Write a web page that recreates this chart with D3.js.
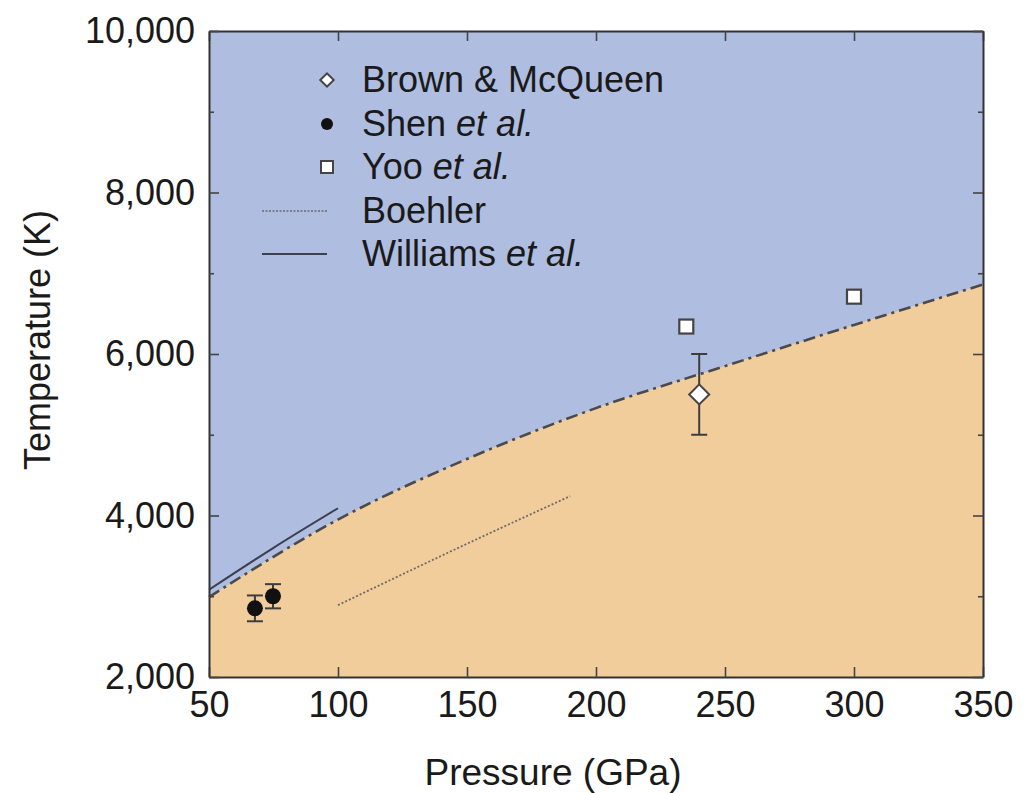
<!DOCTYPE html>
<html>
<head>
<meta charset="utf-8">
<script src="https://cdn.jsdelivr.net/npm/d3@7"></script>
<style>
  body { margin: 0; background: #fff; }
  svg text { font-family: "Liberation Sans", Arial, sans-serif; fill: #1a1a1a; }
</style>
</head>
<body>
<svg id="chart" width="1026" height="793"></svg>
<script>
// melting curve (boundary between solid and liquid)
var meltP = [50, 100, 150, 200, 250, 300, 350]
var meltT = [2990, 3950, 4700, 5330, 5850, 6360, 6860]

// Williams et al. (solid line)
var williamsP = [50, 75, 100]
var williamsT = [3080, 3600, 4090]

// Boehler (dotted line)
var boehlerP = [100, 150, 190]
var boehlerT = [2890, 3650, 4240]

// Shen et al. - filled circles with error bars
var shenP = [67.8, 74.8]
var shenT = [2850, 3000]
var shenErr = [160, 150]

// Brown & McQueen - diamond with error bar
var brownP = [240]
var brownT = [5500]
var brownErr = [500]

// Yoo et al. - open squares
var yooP = [235, 300]
var yooT = [6340, 6710]

var xTicks = [50, 100, 150, 200, 250, 300, 350]
var yTicks = [2000, 4000, 6000, 8000, 10000]
var yMinor = [3000, 5000, 7000, 9000]

var svg = d3.select("#chart")
var pl = 209, pr = 983, pt = 31, pb = 677

var x = d3.scaleLinear().domain([50, 350]).range([pl, pr])
var y = d3.scaleLinear().domain([2000, 10000]).range([pb, pt])

var blue = "#aebde0", orange = "#f2cd9c"

// background (liquid)
svg.append("rect")
  .attr("x", pl).attr("y", pt)
  .attr("width", pr - pl).attr("height", pb - pt)
  .attr("fill", blue)

var melt = meltP.map(function(p, i) { return [p, meltT[i]] })

// solid region below curve
var area = d3.area()
  .x(function(d) { return x(d[0]) })
  .y0(pb)
  .y1(function(d) { return y(d[1]) })
  .curve(d3.curveMonotoneX)
svg.append("path").datum(melt).attr("d", area).attr("fill", orange)

var line = d3.line()
  .x(function(d) { return x(d[0]) })
  .y(function(d) { return y(d[1]) })
  .curve(d3.curveMonotoneX)

svg.append("path").datum(melt).attr("d", line)
  .attr("fill", "none").attr("stroke", "#4a4a4a")
  .attr("stroke-width", 2.6)
  .attr("stroke-dasharray", "12,5,3,5")

svg.append("path").datum(williamsP.map(function(p, i) { return [p, williamsT[i]] }))
  .attr("d", line).attr("fill", "none")
  .attr("stroke", "#3c3f4e").attr("stroke-width", 2)

svg.append("path").datum(boehlerP.map(function(p, i) { return [p, boehlerT[i]] }))
  .attr("d", line).attr("fill", "none")
  .attr("stroke", "#6e6a66").attr("stroke-width", 1.8)
  .attr("stroke-dasharray", "2,2")

// axes frame with inward ticks
var axB = d3.axisBottom(x).tickValues(xTicks).tickSizeInner(-10).tickSizeOuter(0).tickPadding(14)
  .tickFormat(d3.format("d"))
var axT = d3.axisTop(x).tickValues(xTicks).tickSizeInner(-10).tickSizeOuter(0).tickFormat("")
var axL = d3.axisLeft(y).tickValues(yTicks).tickSizeInner(-10).tickSizeOuter(0).tickPadding(14)
  .tickFormat(d3.format(","))
var axR = d3.axisRight(y).tickValues(yTicks).tickSizeInner(-10).tickSizeOuter(0).tickFormat("")

function styleAxis(g) {
  g.select(".domain").attr("stroke", "#333").attr("stroke-width", 2)
  g.selectAll(".tick line").attr("stroke", "#444").attr("stroke-width", 1.6)
  g.selectAll(".tick text").style("font-size", "36px").attr("fill", "#1a1a1a")
}

svg.append("g").attr("transform", "translate(0," + pb + ")").call(axB).call(styleAxis)
svg.append("g").attr("transform", "translate(0," + pt + ")").call(axT).call(styleAxis)
svg.append("g").attr("transform", "translate(" + pl + ",0)").call(axL).call(styleAxis)
svg.append("g").attr("transform", "translate(" + pr + ",0)").call(axR).call(styleAxis)

var axLm = d3.axisLeft(y).tickValues(yMinor).tickSizeInner(-5).tickSizeOuter(0).tickFormat("")
var axRm = d3.axisRight(y).tickValues(yMinor).tickSizeInner(-5).tickSizeOuter(0).tickFormat("")
svg.append("g").attr("transform", "translate(" + pl + ",0)").call(axLm).call(styleAxis)
  .select(".domain").remove()
svg.append("g").attr("transform", "translate(" + pr + ",0)").call(axRm).call(styleAxis)
  .select(".domain").remove()

// error bars
function errBars(P, T, E) {
  P.forEach(function(p, i) {
    var g = svg.append("g").attr("stroke", "#3d3d3d").attr("stroke-width", 2)
    g.append("line").attr("x1", x(p)).attr("x2", x(p)).attr("y1", y(T[i] - E[i])).attr("y2", y(T[i] + E[i]))
    g.append("line").attr("x1", x(p) - 8).attr("x2", x(p) + 8).attr("y1", y(T[i] - E[i])).attr("y2", y(T[i] - E[i]))
    g.append("line").attr("x1", x(p) - 8).attr("x2", x(p) + 8).attr("y1", y(T[i] + E[i])).attr("y2", y(T[i] + E[i]))
  })
}
errBars(shenP, shenT, shenErr)
errBars(brownP, brownT, brownErr)

svg.selectAll(".shen").data(shenP).enter().append("circle")
  .attr("cx", function(d) { return x(d) })
  .attr("cy", function(d, i) { return y(shenT[i]) })
  .attr("r", 8).attr("fill", "#111")

// diamond = square turned 45 degrees
var diamond = d3.symbol().type(d3.symbolSquare).size(200)
svg.selectAll(".brown").data(brownP).enter().append("path")
  .attr("d", diamond)
  .attr("transform", function(d, i) { return "translate(" + x(d) + "," + y(brownT[i]) + ") rotate(45)" })
  .attr("fill", "#fff").attr("stroke", "#444").attr("stroke-width", 2)

svg.selectAll(".yoo").data(yooP).enter().append("rect")
  .attr("x", function(d) { return x(d) - 7 })
  .attr("y", function(d, i) { return y(yooT[i]) - 7 })
  .attr("width", 14).attr("height", 14)
  .attr("fill", "#fff").attr("stroke", "#444").attr("stroke-width", 2.2)

// legend
var legX = 327, textX = 362
var legRows = [80, 124, 167, 211, 254]
var legLabels = [["Brown & McQueen", ""], ["Shen ", "et al."], ["Yoo ", "et al."], ["Boehler", ""], ["Williams ", "et al."]]

svg.append("path").attr("d", d3.symbol().type(d3.symbolSquare).size(90))
  .attr("transform", "translate(" + legX + "," + legRows[0] + ") rotate(45)")
  .attr("fill", "#fff").attr("stroke", "#444").attr("stroke-width", 2)
svg.append("circle").attr("cx", legX).attr("cy", legRows[1]).attr("r", 6).attr("fill", "#111")
svg.append("rect").attr("x", legX - 6).attr("y", legRows[2] - 6).attr("width", 12).attr("height", 12)
  .attr("fill", "#fff").attr("stroke", "#444").attr("stroke-width", 2)
svg.append("line").attr("x1", 262).attr("x2", 327).attr("y1", legRows[3]).attr("y2", legRows[3])
  .attr("stroke", "#6e6a66").attr("stroke-width", 1.4).attr("stroke-dasharray", "2,1.5")
svg.append("line").attr("x1", 262).attr("x2", 327).attr("y1", legRows[4]).attr("y2", legRows[4])
  .attr("stroke", "#3c3f4e").attr("stroke-width", 2)

legLabels.forEach(function(l, i) {
  var t = svg.append("text").attr("x", textX).attr("y", legRows[i] + 12).style("font-size", "36px")
  t.append("tspan").text(l[0])
  if (l[1]) t.append("tspan").style("font-style", "italic").text(l[1])
})

// axis titles
svg.append("text").attr("x", 553).attr("y", 785).attr("text-anchor", "middle")
  .style("font-size", "37px").text("Pressure (GPa)")
svg.append("text").attr("transform", "translate(50,340) rotate(-90)").attr("text-anchor", "middle")
  .style("font-size", "36px").text("Temperature (K)")
</script>
</body>
</html>
